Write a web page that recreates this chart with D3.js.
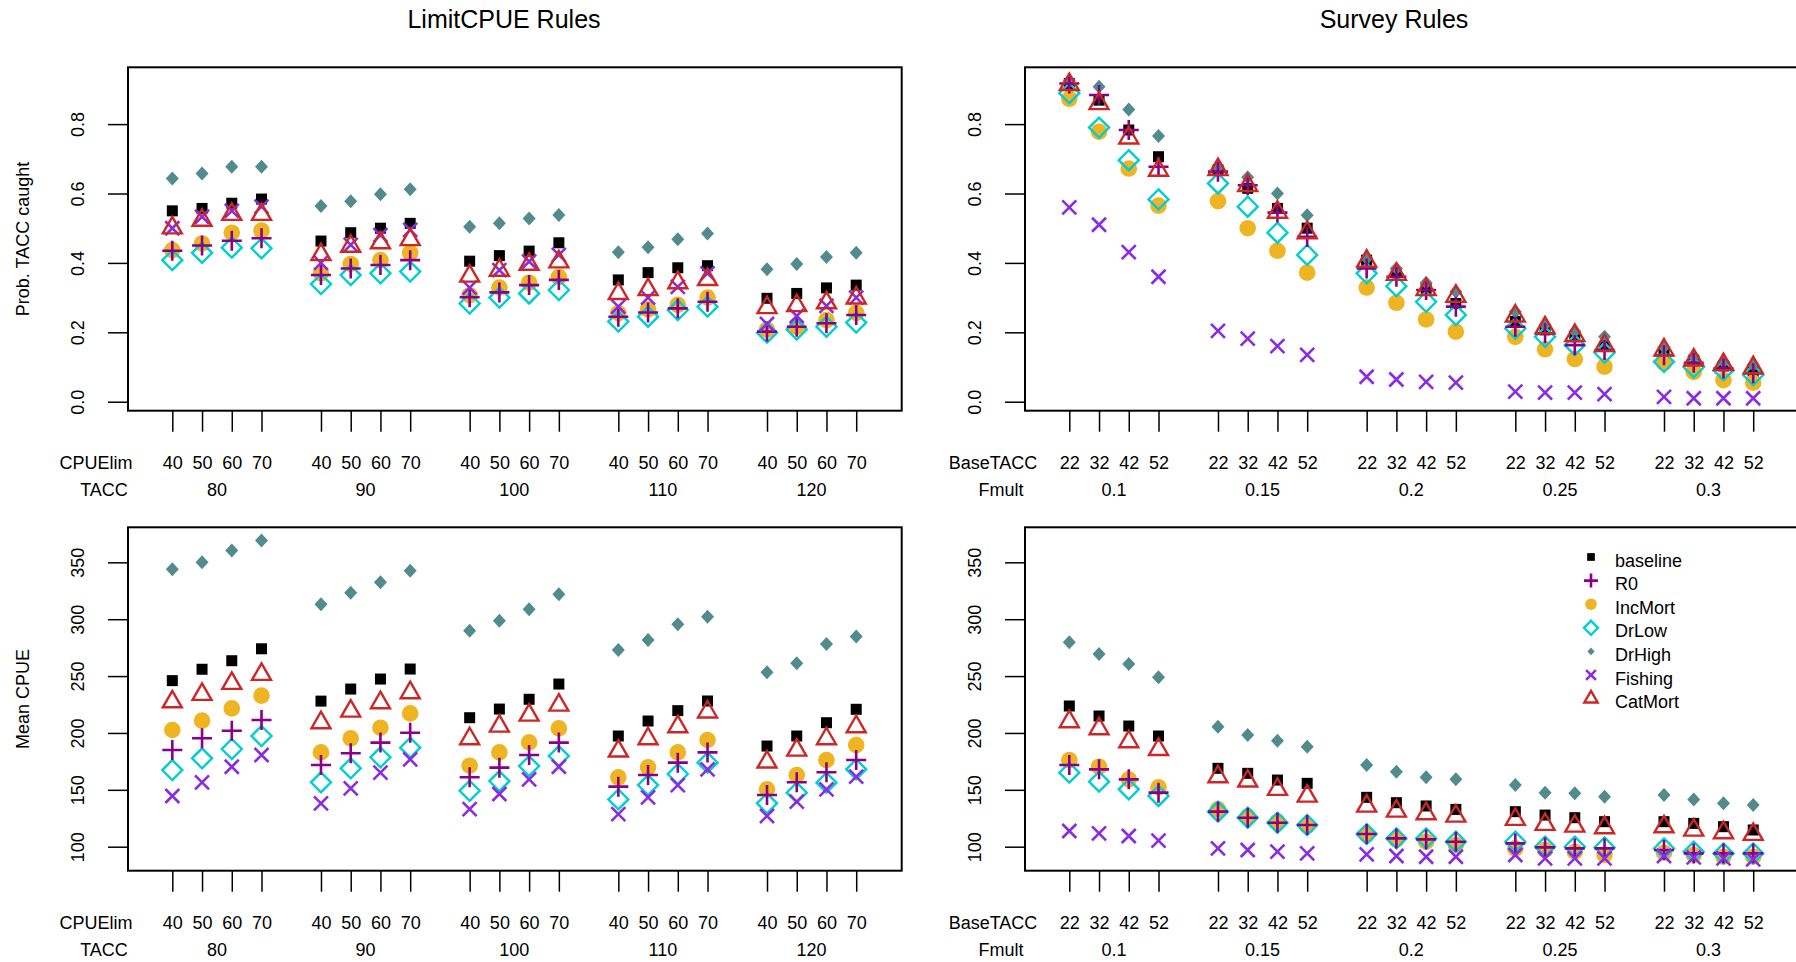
<!DOCTYPE html>
<html>
<head>
<meta charset="utf-8">
<script src="https://cdn.jsdelivr.net/npm/d3@7"></script>
<style>
  body { margin: 0; background: #fff; }
  svg { display: block; font-family: "Liberation Sans", Arial, sans-serif; }
  .tick text { font-size: 18px; fill: #000; }
  .tick line { stroke: #000; stroke-width: 1.5; }
</style>
</head>
<body>
<div id="chart"></div>
<script>
// series, in the legend order
const seriesNames = ['baseline', 'R0', 'IncMort', 'DrLow', 'DrHigh', 'Fishing', 'CatMort'];

const limitGroups = ['80', '90', '100', '110', '120'];
const limitLevels = ['40', '50', '60', '70'];
const surveyGroups = ['0.1', '0.15', '0.2', '0.25', '0.3'];
const surveyLevels = ['22', '32', '42', '52'];

const probTicks = [0, 0.2, 0.4, 0.6, 0.8];
const cpueTicks = [100, 150, 200, 250, 300, 350];

// each row is one series (seriesNames order), 5 groups x 4 levels
const limitProb = [
  [0.550,0.557,0.572,0.584, 0.463,0.487,0.500,0.514, 0.405,0.421,0.434,0.458, 0.351,0.372,0.386,0.392, 0.298,0.312,0.328,0.336],
  [0.435,0.450,0.464,0.471, 0.365,0.384,0.394,0.408, 0.301,0.315,0.336,0.351, 0.245,0.257,0.269,0.288, 0.202,0.216,0.226,0.250],
  [0.437,0.456,0.487,0.493, 0.370,0.397,0.408,0.429, 0.307,0.329,0.343,0.360, 0.255,0.266,0.279,0.300, 0.208,0.216,0.235,0.256],
  [0.408,0.429,0.444,0.442, 0.339,0.365,0.370,0.375, 0.283,0.300,0.312,0.322, 0.231,0.245,0.264,0.274, 0.199,0.208,0.216,0.228],
  [0.643,0.658,0.677,0.677, 0.564,0.578,0.598,0.612, 0.504,0.514,0.528,0.538, 0.431,0.445,0.468,0.485, 0.382,0.397,0.417,0.429],
  [0.500,0.533,0.550,0.562, 0.400,0.452,0.480,0.495, 0.329,0.379,0.404,0.423, 0.274,0.300,0.331,0.370, 0.224,0.247,0.276,0.300],
  [0.501,0.523,0.540,0.540, 0.424,0.448,0.458,0.467, 0.362,0.379,0.396,0.403, 0.312,0.323,0.343,0.352, 0.271,0.277,0.285,0.299]
];

const surveyProb = [
  [0.917,0.869,0.783,0.706, 0.668,0.615,0.557,0.500, 0.408,0.372,0.327,0.283, 0.231,0.207,0.187,0.159, 0.139,0.120,0.103,0.086],
  [0.917,0.884,0.783,0.677, 0.663,0.624,0.545,0.475, 0.384,0.360,0.322,0.274, 0.216,0.197,0.163,0.149, 0.134,0.112,0.096,0.082],
  [0.873,0.778,0.672,0.565, 0.578,0.500,0.435,0.372, 0.329,0.285,0.237,0.202, 0.187,0.151,0.123,0.101, 0.112,0.086,0.062,0.055],
  [0.889,0.790,0.696,0.583, 0.629,0.562,0.487,0.423, 0.370,0.333,0.288,0.250, 0.211,0.187,0.163,0.141, 0.115,0.099,0.091,0.077],
  [0.925,0.908,0.842,0.766, 0.675,0.647,0.600,0.537, 0.413,0.384,0.343,0.317, 0.259,0.221,0.202,0.187, 0.157,0.130,0.115,0.106],
  [0.560,0.510,0.431,0.360, 0.204,0.182,0.160,0.135, 0.072,0.064,0.057,0.055, 0.029,0.026,0.026,0.022, 0.014,0.010,0.010,0.010],
  [0.914,0.859,0.760,0.667, 0.669,0.623,0.546,0.487, 0.405,0.367,0.323,0.304, 0.247,0.213,0.191,0.162, 0.149,0.120,0.107,0.098]
];

const limitCpue = [
  [246,256,263.5,274, 228,238.6,247.4,256.2, 213.4,221,229.6,243, 197.3,210.5,219.6,228.1, 188.5,197.3,209,220.8],
  [185,195.3,202,211.4, 171.8,182.1,191.5,200.2, 161,169.5,180.6,191.5, 152.8,163,173.9,182.9, 145.4,156.6,165.4,176.2],
  [202.6,210.8,221.6,232.8, 182.9,195.3,204.6,217.2, 171.2,182.9,191.7,204, 161,169.8,182.9,193.8, 150.4,163,176.2,189.4],
  [167.4,177.7,185.9,197.3, 156.6,168.9,178.6,187.1, 149.2,157.7,170.9,179.7, 141.6,154.2,163.9,173.9, 138.1,147.5,156.3,168],
  [343.9,350,360.3,369.1, 313.1,323.3,332.4,342.7, 289.9,298.7,308.7,321.9, 272.9,281.7,295.5,302.2, 253.3,261.2,278.2,284.7],
  [144.6,156.6,170.3,180.6, 138.1,151.3,165.1,176.8, 133.1,146.3,159.2,170.3, 128.7,143.4,154.2,168, 127,139.6,150.4,161.6],
  [227.4,233.9,243.6,251.5, 209,219.2,226.6,235.4, 194.9,206,215.7,224.5, 184.1,194.9,205.5,218.4, 174.4,184.9,194.9,205.5]
];

const surveyCpue = [
  [223.7,214.9,206.1,197.3, 168.9,164.5,158.6,155.7, 143.4,138.7,135.8,132.8, 130.8,127.8,125.5,122, 122,120.5,117.6,114.7],
  [171.8,168,159.2,147.5, 130.8,125.5,121.1,119.1, 111.1,107.3,106.4,104.4, 102.9,99.4,98.5,98.5, 97.1,94.1,94.1,94.1],
  [176.2,170.3,159.2,152.2, 132.8,126.4,122,118.2, 110.3,106.4,104.4,101.5, 98.5,97.1,95.6,92.7, 94.7,92.7,91.2,91.2],
  [165.1,157.2,150.4,144.6, 130.8,125.5,121.1,119.1, 111.1,107.3,107.3,104.4, 104.4,100,100,99.4, 98.5,95.6,94.1,94.1],
  [279.7,269.4,260.6,248.9, 205.5,198.2,193.2,187.9, 171.8,166,161,159.2, 154.2,147.5,146.9,144, 145.4,141.6,138.1,136.6],
  [113.8,111.7,109.4,105.3, 98.5,97.1,95.6,94.1, 93.3,91.8,91.2,91.2, 92.7,89.7,89.7,89.7, 91.8,90.6,89.7,88.8],
  [209.9,203.7,192.3,185.5, 161.5,157.7,150.4,144.5, 135.7,131.3,129,126.9, 124,119.6,118.1,116.7, 117.5,114.6,112.3,110.8]
];

// marker styles per series
const styles = {
  baseline: {shape: 'square', color: '#000000'},
  R0:       {shape: 'plus', color: '#8B008B'},
  IncMort:  {shape: 'circle', color: '#EEB422'},
  DrLow:    {shape: 'diamond', color: '#00CED1'},
  DrHigh:   {shape: 'fdiamond', color: '#528B8B'},
  Fishing:  {shape: 'cross', color: '#8A2BE2'},
  CatMort:  {shape: 'triangle', color: '#CD2626'}
};
// order the points are painted in
const drawOrder = ['baseline', 'IncMort', 'DrLow', 'DrHigh', 'R0', 'Fishing', 'CatMort'];

const width = 1796, height = 962;
const svg = d3.select('#chart').append('svg')
  .attr('width', width)
  .attr('height', height)
  .attr('viewBox', [0, 0, width, height]);
svg.append('rect').attr('width', width).attr('height', height).attr('fill', '#fff');

function addMarker(sel, shape, color, k) {
  if (shape === 'square') {
    const s = 11 * k;
    sel.append('rect').attr('x', -s / 2).attr('y', -s / 2).attr('width', s).attr('height', s).attr('fill', color);
  } else if (shape === 'plus') {
    const a = 10 * k;
    sel.append('path').attr('d', `M${-a},0H${a}M0,${-a}V${a}`)
      .attr('stroke', color).attr('stroke-width', 2.6).attr('fill', 'none');
  } else if (shape === 'circle') {
    sel.append('circle').attr('r', 8.3 * k).attr('fill', color);
  } else if (shape === 'diamond') {
    const a = 10 * k;
    sel.append('path').attr('d', `M0,${-a}L${a},0L0,${a}L${-a},0Z`)
      .attr('stroke', color).attr('stroke-width', 2.4).attr('fill', 'none');
  } else if (shape === 'fdiamond') {
    const ax = 6.5 * k, ay = 7 * k;
    sel.append('path').attr('d', `M0,${-ay}L${ax},0L0,${ay}L${-ax},0Z`).attr('fill', color);
  } else if (shape === 'cross') {
    const a = 7 * k;
    sel.append('path').attr('d', `M${-a},${-a}L${a},${a}M${-a},${a}L${a},${-a}`)
      .attr('stroke', color).attr('stroke-width', 2.6).attr('fill', 'none');
  } else if (shape === 'triangle') {
    const w = 9.5 * k, up = 11 * k, dn = 5.5 * k;
    sel.append('path').attr('d', `M0,${-up}L${w},${dn}L${-w},${dn}Z`)
      .attr('stroke', color).attr('stroke-width', 2.4).attr('fill', 'none')
      .attr('stroke-linejoin', 'miter');
  }
}

const panels = [
  {data: limitProb, groups: limitGroups, levels: limitLevels, levelName: 'CPUElim', groupName: 'TACC',
   ticks: probTicks, fmt: d3.format('.1f'), yDomain: [-0.0259, 0.9637],
   left: 128, right: 901.7, top: 67.3, bottom: 410.7, ylab: 'Prob. TACC caught'},
  {data: surveyProb, groups: surveyGroups, levels: surveyLevels, levelName: 'BaseTACC', groupName: 'Fmult',
   ticks: probTicks, fmt: d3.format('.1f'), yDomain: [-0.0259, 0.9637],
   left: 1025, right: 1798.7, top: 67.3, bottom: 410.7, ylab: null},
  {data: limitCpue, groups: limitGroups, levels: limitLevels, levelName: 'CPUElim', groupName: 'TACC',
   ticks: cpueTicks, fmt: d3.format('d'), yDomain: [78.9, 380.8],
   left: 128, right: 901.7, top: 527.3, bottom: 870.7, ylab: 'Mean CPUE'},
  {data: surveyCpue, groups: surveyGroups, levels: surveyLevels, levelName: 'BaseTACC', groupName: 'Fmult',
   ticks: cpueTicks, fmt: d3.format('d'), yDomain: [78.9, 380.8],
   left: 1025, right: 1798.7, top: 527.3, bottom: 870.7, ylab: null, legend: true}
];

panels.forEach(p => {
  const x = d3.scaleLinear().domain([-0.49, 25.53]).range([p.left, p.right]);
  const y = d3.scaleLinear().domain(p.yDomain).range([p.bottom, p.top]);

  // positions: 4 levels per group with a gap of one between groups
  const pos = [];
  p.groups.forEach((g, gi) => p.levels.forEach((l, li) => pos.push(gi * 5 + li + 1)));

  // x axis
  const xAxis = svg.append('g')
    .attr('transform', `translate(0,${p.bottom})`)
    .call(d3.axisBottom(x).tickValues(pos).tickSize(21).tickPadding(25)
      .tickFormat((d, i) => p.levels[i % 4]));
  xAxis.select('.domain').remove();
  xAxis.selectAll('.tick text').attr('dy', 0).attr('y', 21 + 25 + 12.4);

  svg.append('text')
    .attr('x', p.left - 32).attr('y', p.bottom + 58.7)
    .attr('text-anchor', 'middle').attr('font-size', 18)
    .text(p.levelName);
  svg.append('text')
    .attr('x', p.left - 24).attr('y', p.bottom + 85.7)
    .attr('text-anchor', 'middle').attr('font-size', 18)
    .text(p.groupName);
  svg.append('g').selectAll('text')
    .data(p.groups)
    .join('text')
      .attr('x', (d, gi) => x(gi * 5 + 2.5))
      .attr('y', p.bottom + 85.7)
      .attr('text-anchor', 'middle').attr('font-size', 18)
      .text(d => d);

  // y axis
  const yAxis = svg.append('g')
    .attr('transform', `translate(${p.left},0)`)
    .call(d3.axisLeft(y).tickValues(p.ticks).tickSize(20).tickFormat(p.fmt));
  yAxis.select('.domain').remove();
  yAxis.selectAll('.tick text')
    .attr('transform', 'rotate(-90)')
    .attr('text-anchor', 'middle')
    .attr('x', 0).attr('y', -43.6).attr('dy', 0);

  if (p.ylab) {
    svg.append('text')
      .attr('transform', `translate(29,${(p.top + p.bottom) / 2}) rotate(-90)`)
      .attr('text-anchor', 'middle').attr('font-size', 18)
      .text(p.ylab);
  }

  // points
  const pts = svg.append('g');
  drawOrder.forEach(name => {
    const vals = p.data[seriesNames.indexOf(name)];
    const st = styles[name];
    pts.append('g').selectAll('g')
      .data(vals)
      .join('g')
        .attr('transform', (d, i) => `translate(${x(pos[i])},${y(d)})`)
        .each(function() { addMarker(d3.select(this), st.shape, st.color, 1); });
  });

  // box
  svg.append('rect')
    .attr('x', p.left).attr('y', p.top)
    .attr('width', p.right - p.left).attr('height', p.bottom - p.top)
    .attr('fill', 'none').attr('stroke', '#000').attr('stroke-width', 2);

  if (p.legend) {
    const lg = svg.append('g').selectAll('g')
      .data(seriesNames)
      .join('g')
        .attr('transform', (d, i) => `translate(1591,${557 + i * 23.6})`);
    lg.each(function(d) {
      addMarker(d3.select(this), styles[d].shape, styles[d].color, d === 'DrHigh' ? 0.55 : 0.7);
    });
    lg.append('text')
      .attr('x', 24).attr('y', 9.5)
      .attr('font-size', 18)
      .text(d => d);
  }
});

// column titles
svg.append('text').attr('x', 504).attr('y', 28).attr('text-anchor', 'middle')
  .attr('font-size', 25).text('LimitCPUE Rules');
svg.append('text').attr('x', 1394).attr('y', 28).attr('text-anchor', 'middle')
  .attr('font-size', 25).text('Survey Rules');
</script>
</body>
</html>
